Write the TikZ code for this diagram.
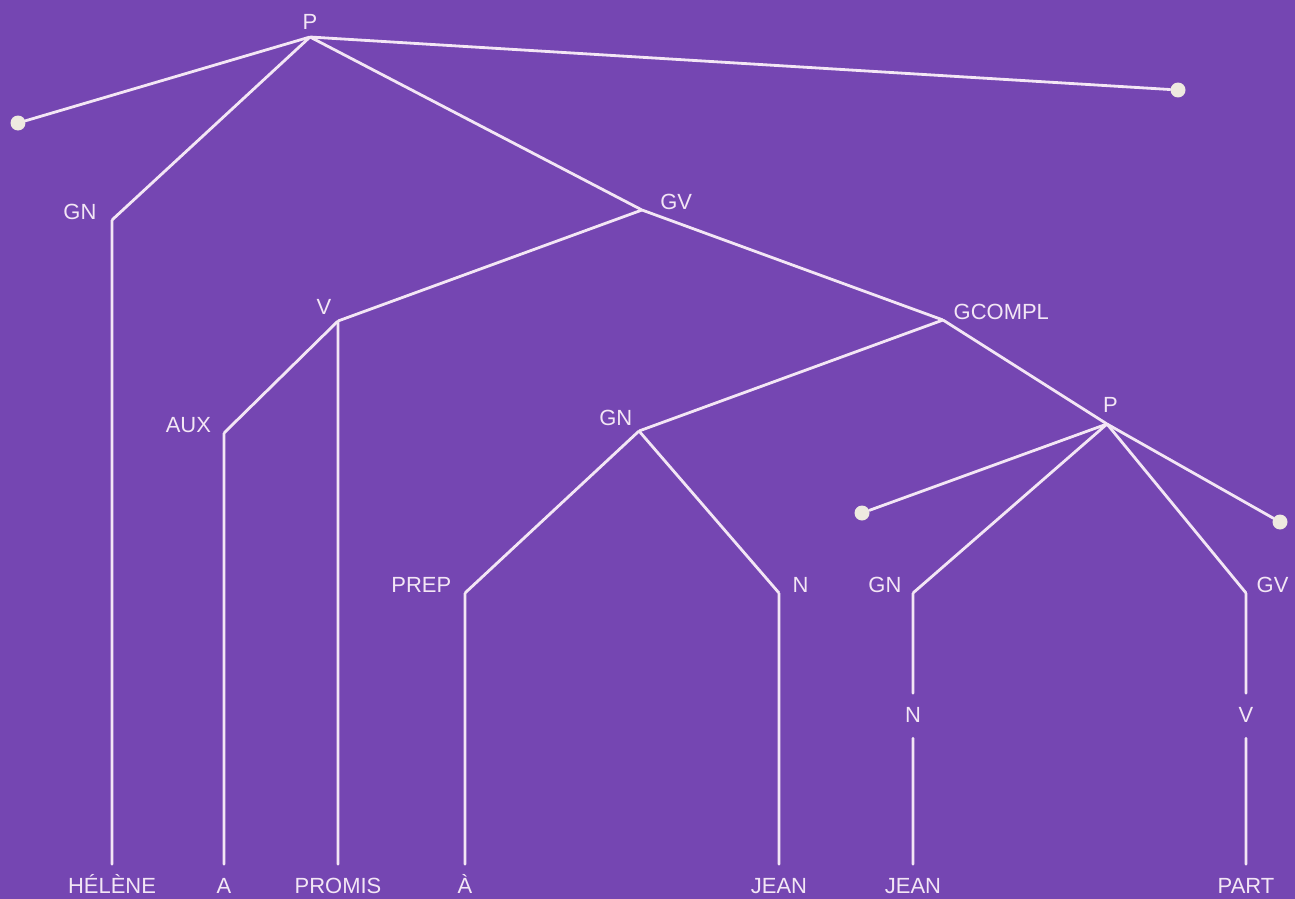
\documentclass[tikz,border=0pt]{standalone}
\usepackage{fontspec}
\setmainfont{Liberation Sans}
\definecolor{purplebg}{RGB}{117,70,178}
\definecolor{chalk}{RGB}{243,230,245}
\definecolor{dotc}{RGB}{238,234,224}

\begin{document}
\begin{tikzpicture}[x=0.02cm,y=-0.02cm]
\tikzset{branch/.style={chalk,line width=1.6pt,line cap=round,line join=round},
  vx/.style={inner sep=0pt,minimum size=0pt},
  cat/.style={text=chalk,font=\fontsize{12.5}{15}\selectfont,inner sep=0pt,text depth=0pt},
  catl/.style={cat,anchor=south east,xshift=-#1},
  catr/.style={cat,anchor=south west,xshift=#1},
  word/.style={text=chalk,font=\fontsize{12.5}{15}\selectfont,inner xsep=0pt,inner ysep=9pt,text height=0.72em,text depth=0pt,anchor=base},
  blob/.style={circle,fill=dotc,inner sep=0pt,minimum size=0.3cm}};
\path[use as bounding box,fill=purplebg] (0,0) rectangle (1295,899);
    % upper part of the tree
    \node[vx,label={[cat,anchor=south,yshift=4pt]above:P}] (p) at (310,37) {};
    \node[vx,label={[catl=8.5pt]left:GN}] (gn) at (112,220) {};
    \node[vx,label={[catr=10pt]right:GV}] (gv) at (642,210) {};
    \node[vx,label={[cat,anchor=south east,xshift=-3.4pt,yshift=3.4pt]above left:V}] (v) at (338,321) {};
    \node[vx,label={[catl=7pt]left:AUX}] (aux) at (224,433) {};
    \node[vx,label={[catr=5.7pt]right:GCOMPL}] (gcompl) at (943,320) {};
    \node[vx,label={[cat,anchor=south east,xshift=-3.4pt,yshift=3pt]above left:GN}] (gnb) at (639,431) {};
    \node[vx,label={[catl=7.4pt]left:PREP}] (prep) at (465,593) {};
    \node[vx,label={[catr=7.4pt]right:N}] (n) at (779,593) {};
    % embedded sentence
    \node[vx,label={[cat,anchor=south,xshift=2pt,yshift=6pt]above:P}] (pp) at (1107,424) {};
    \node[vx,label={[catl=6.2pt]left:GN}] (gnc) at (913,593) {};
    \node[vx,label={[catr=5.7pt]right:GV}] (gvb) at (1246,593) {};
    \node[word] (nc) at (913,722) {N};
    \node[word] (vb) at (1246,722) {V};
    % empty positions
    \node[blob] (dl) at (18,123) {};
    \node[blob] (dr) at (1178,90) {};
    \node[blob] (dlb) at (862,513) {};
    \node[blob] (drb) at (1280,522) {};
    % terminal words
    \node[word] (helene) at (112,893) {HÉLÈNE};
    \node[word] (a) at (224,893) {A};
    \node[word] (promis) at (338,893) {PROMIS};
    \node[word] (agrave) at (465,893) {À};
    \node[word] (jean) at (779,893) {JEAN};
    \node[word] (jeanb) at (913,893) {JEAN};
    \node[word] (part) at (1246,893) {PART};

    \draw[branch] (dl) -- (p) -- (dr);
    \draw[branch] (p) -- (gn) -- (helene);
    \draw[branch] (p) -- (gv) -- (gcompl) -- (pp) -- (drb);
    \draw[branch] (gv) -- (v) -- (promis);
    \draw[branch] (v) -- (aux) -- (a);
    \draw[branch] (gcompl) -- (gnb) -- (prep) -- (agrave);
    \draw[branch] (gnb) -- (n) -- (jean);
    \draw[branch] (pp) -- (dlb);
    \draw[branch] (pp) -- (gnc) -- (nc) -- (jeanb);
    \draw[branch] (pp) -- (gvb) -- (vb) -- (part);
\end{tikzpicture}
\end{document}
